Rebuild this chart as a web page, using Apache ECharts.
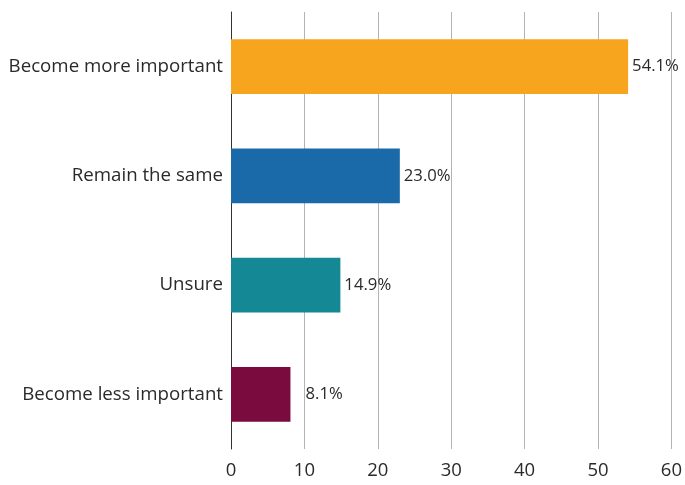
<!DOCTYPE html>
<html><head><meta charset="utf-8">
<script src="https://cdn.jsdelivr.net/npm/echarts@6/dist/echarts.min.js"></script>
<style>html,body{margin:0;padding:0;background:#fff}#c{width:685px;height:485px}</style>
</head><body><div id="c"></div>
<script>
const categories = ["Become more important", "Remain the same", "Unsure", "Become less important"];
const values = [54.1, 23.0, 14.9, 8.1];
const colors = ["#F7A41E", "#1A6AA9", "#158896", "#7A0B3F"];
const labelOffsets = [0, 0, 0, 11];
const xTicks = [0, 10, 20, 30, 40, 50, 60];

const chart = echarts.init(document.getElementById('c'), null, {renderer: 'canvas'});
const font = '"Open Sans", "Noto Sans", sans-serif';
chart.setOption({
  animation: false,
  grid: {left: 231, right: 11, top: 12, bottom: 36, containLabel: false},
  xAxis: {
    type: 'value', min: xTicks[0], max: xTicks[xTicks.length - 1], interval: 10,
    axisLine: {show: false}, axisTick: {show: false},
    splitLine: {show: true, lineStyle: {color: '#b3b3b3', width: 1}},
    axisLabel: {color: '#2a2a2a', fontSize: 18.5, fontFamily: font, margin: 12}
  },
  yAxis: {
    type: 'category', data: categories, inverse: true,
    axisLine: {show: true, lineStyle: {color: '#333', width: 1}},
    axisTick: {show: false},
    axisLabel: {color: '#2a2a2a', fontSize: 18.7, fontFamily: font, margin: 8}
  },
  series: [{
    type: 'bar', barCategoryGap: '50%',
    data: values.map((v, i) => ({
      value: v,
      itemStyle: {color: colors[i]},
      label: {offset: [labelOffsets[i], 0]}
    })),
    label: {
      show: true, position: 'right', distance: 4, color: '#2a2a2a',
      fontSize: 16.7, fontFamily: font,
      formatter: p => p.value.toFixed(1) + '%'
    }
  }]
});
</script></body></html>
